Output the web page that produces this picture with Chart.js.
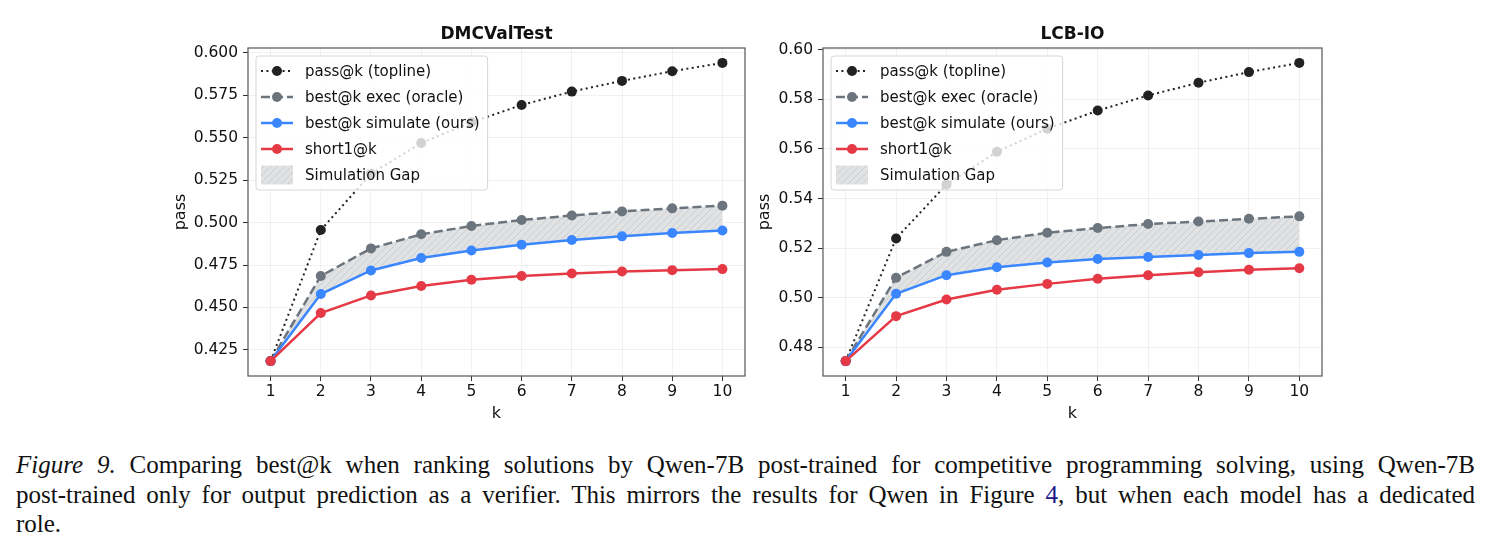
<!DOCTYPE html>
<html>
<head>
<meta charset="utf-8">
<script src="https://cdn.jsdelivr.net/npm/chart.js@4.4.0/dist/chart.umd.min.js"></script>
<style>
  body { margin: 0; background: #fff; width: 1491px; height: 555px; position: relative; overflow: hidden; }
  #c1 { position: absolute; left: 150px; top: 0; }
  #c2 { position: absolute; left: 745px; top: 0; }
  .cap { position: absolute; left: 16px; top: 450px; width: 1459px; font-family: "Liberation Serif", serif; font-size: 25px; line-height: 29.5px; color: #111; }
  .cap .j { text-align: justify; text-align-last: justify; }
  .cap a { color: #1a1a8c; text-decoration: none; }
</style>
</head>
<body>
<canvas id="c1" width="602" height="430"></canvas>
<canvas id="c2" width="595" height="430"></canvas>
<div class="cap">
  <div class="j"><i>Figure 9.</i> Comparing best@k when ranking solutions by Qwen-7B post-trained for competitive programming solving, using Qwen-7B</div>
  <div class="j">post-trained only for output prediction as a verifier. This mirrors the results for Qwen in Figure <a>4</a>, but when each model has a dedicated</div>
  <div>role.</div>
</div>
<script>
// data
const kValues = [1, 2, 3, 4, 5, 6, 7, 8, 9, 10];
const seriesLabels = ["pass@k (topline)", "best@k exec (oracle)", "best@k simulate (ours)", "short1@k"];
const gapLabel = "Simulation Gap";

const dmcPass  = [0.4184, 0.4956, 0.5288, 0.5469, 0.5591, 0.5693, 0.5772, 0.5835, 0.5892, 0.5941];
const dmcExec  = [0.4184, 0.4685, 0.4848, 0.4931, 0.4980, 0.5015, 0.5042, 0.5066, 0.5084, 0.5100];
const dmcSim   = [0.4184, 0.4579, 0.4718, 0.4791, 0.4836, 0.4870, 0.4897, 0.4919, 0.4939, 0.4954];
const dmcShort = [0.4184, 0.4467, 0.4571, 0.4626, 0.4663, 0.4685, 0.4700, 0.4712, 0.4720, 0.4726];

const lcbPass  = [0.4745, 0.5239, 0.5456, 0.5588, 0.5681, 0.5754, 0.5815, 0.5866, 0.5909, 0.5946];
const lcbExec  = [0.4745, 0.5081, 0.5185, 0.5232, 0.5262, 0.5281, 0.5297, 0.5307, 0.5318, 0.5328];
const lcbSim   = [0.4745, 0.5016, 0.5091, 0.5123, 0.5142, 0.5156, 0.5164, 0.5172, 0.5180, 0.5185];
const lcbShort = [0.4745, 0.4926, 0.4993, 0.5032, 0.5056, 0.5077, 0.5091, 0.5103, 0.5113, 0.5119];

const dmcYTicks = [0.425, 0.450, 0.475, 0.500, 0.525, 0.550, 0.575, 0.600];
const lcbYTicks = [0.48, 0.50, 0.52, 0.54, 0.56, 0.58, 0.60];

Chart.defaults.font.family = '"DejaVu Sans", sans-serif';
Chart.defaults.color = '#111';

const colors = ['#222222', '#6c757d', '#3a86ff', '#e63946'];
const dashes = [[2, 3.4], [9, 4], [], []];
const widths = [2, 2.5, 2.5, 2.5];

// hatched light grey fill for the gap
function hatch() {
  const c = document.createElement('canvas');
  c.width = 7; c.height = 7;
  const g = c.getContext('2d');
  g.fillStyle = '#e1e2e4';
  g.fillRect(0, 0, 7, 7);
  g.strokeStyle = '#cdced0';
  g.lineWidth = 1;
  g.beginPath();
  g.moveTo(0, 7); g.lineTo(7, 0);
  g.moveTo(-1, 1); g.lineTo(1, -1);
  g.moveTo(6, 8); g.lineTo(8, 6);
  g.stroke();
  return g.createPattern(c, 'repeat');
}
const gapFill = hatch();

const framePlugin = {
  id: 'frame',
  afterDatasetsDraw(chart) {
    const ctx = chart.ctx, a = chart.chartArea;
    ctx.save();
    ctx.strokeStyle = '#555';
    ctx.lineWidth = 1.2;
    ctx.setLineDash([]);
    ctx.strokeRect(a.left, a.top, a.right - a.left, a.bottom - a.top);
    // title
    ctx.fillStyle = '#111';
    ctx.font = 'bold 17px "DejaVu Sans"';
    ctx.textAlign = 'center';
    ctx.textBaseline = 'middle';
    ctx.fillText(chart.options.plugins.frame.title, (a.left + a.right) / 2, 35);

    // legend, matplotlib style
    const ds = chart.data.datasets;
    ctx.font = '15px "DejaVu Sans"';
    const labels = ds.map(d => d.label).concat([gapLabel]);
    const tw = Math.max(...labels.map(l => ctx.measureText(l).width));
    const x0 = a.left + 8, y0 = a.top + 8;
    const w = 49 + tw + 8, h = 134;
    ctx.beginPath();
    ctx.roundRect(x0, y0, w, h, 3);
    ctx.fillStyle = 'rgba(255,255,255,0.8)';
    ctx.fill();
    ctx.strokeStyle = '#d6d6d6';
    ctx.lineWidth = 1;
    ctx.stroke();
    ds.forEach((d, i) => {
      const cy = y0 + 15 + i * 26;
      ctx.setLineDash(d.borderDash || []);
      ctx.strokeStyle = d.borderColor;
      ctx.lineWidth = d.borderWidth;
      ctx.beginPath();
      ctx.moveTo(x0 + 5, cy); ctx.lineTo(x0 + 37, cy);
      ctx.stroke();
      ctx.setLineDash([]);
      ctx.fillStyle = d.pointBackgroundColor;
      ctx.beginPath();
      ctx.arc(x0 + 21, cy, 5, 0, Math.PI * 2);
      ctx.fill();
      ctx.fillStyle = '#111';
      ctx.textAlign = 'left';
      ctx.fillText(d.label, x0 + 49, cy + 1);
    });
    const gy = y0 + 15 + 4 * 26;
    ctx.fillStyle = gapFill;
    ctx.fillRect(x0 + 5, gy - 9.5, 32, 19);
    ctx.fillStyle = '#111';
    ctx.fillText(gapLabel, x0 + 49, gy + 1);
    ctx.restore();
  }
};

function makeChart(id, title, series, yTicks, dec, yWidth, yTitlePad, rightPad) {
  const all = series.flat();
  const lo = Math.min(...all), hi = Math.max(...all), m = (hi - lo) * 0.05;
  const datasets = series.map((vals, i) => ({
    label: seriesLabels[i],
    data: kValues.map((k, j) => ({ x: k, y: vals[j] })),
    borderColor: colors[i],
    borderWidth: widths[i],
    borderDash: dashes[i],
    pointBackgroundColor: colors[i],
    pointBorderWidth: 0,
    pointRadius: 5,
    backgroundColor: i === 1 ? gapFill : colors[i],
    fill: i === 1 ? '+1' : false,
    order: 4 - i,
    tension: 0
  }));
  return new Chart(document.getElementById(id), {
    type: 'line',
    data: { datasets },
    plugins: [framePlugin],
    options: {
      responsive: false,
      animation: false,
      devicePixelRatio: 1,
      layout: { padding: { top: 48, right: rightPad, left: 0, bottom: 0 } },
      plugins: {
        legend: { display: false },
        tooltip: { enabled: false },
        frame: { title: title }
      },
      scales: {
        x: {
          type: 'linear',
          min: 0.55, max: 10.45,
          afterBuildTicks: s => { s.ticks = kValues.map(v => ({ value: v })); },
          afterFit: s => { s.height = 54; },
          ticks: { font: { size: 15.5 }, color: '#111', padding: 2, callback: v => String(v) },
          grid: { color: 'rgba(0,0,0,0.07)', lineWidth: 0.8, tickColor: '#333', tickLength: 5, tickWidth: 1 },
          border: { display: false },
          title: { display: true, text: 'k', font: { size: 16 }, color: '#111', padding: { top: 0, bottom: 7 } }
        },
        y: {
          min: lo - m, max: hi + m,
          afterBuildTicks: s => { s.ticks = yTicks.map(v => ({ value: v })); },
          afterFit: s => { s.width = yWidth; },
          ticks: { font: { size: 15.5 }, color: '#111', padding: 5, callback: v => v.toFixed(dec) },
          grid: { color: 'rgba(0,0,0,0.07)', lineWidth: 0.8, tickColor: '#333', tickLength: 5, tickWidth: 1 },
          border: { display: false },
          title: { display: true, text: 'pass', font: { size: 16 }, color: '#111', padding: { top: yTitlePad, bottom: 0 } }
        }
      }
    }
  });
}

makeChart('c1', 'DMCValTest', [dmcPass, dmcExec, dmcSim, dmcShort], dmcYTicks, 3, 98, 21, 7);
makeChart('c2', 'LCB-IO', [lcbPass, lcbExec, lcbSim, lcbShort], lcbYTicks, 2, 78, 10, 18);
</script>
</body>
</html>
